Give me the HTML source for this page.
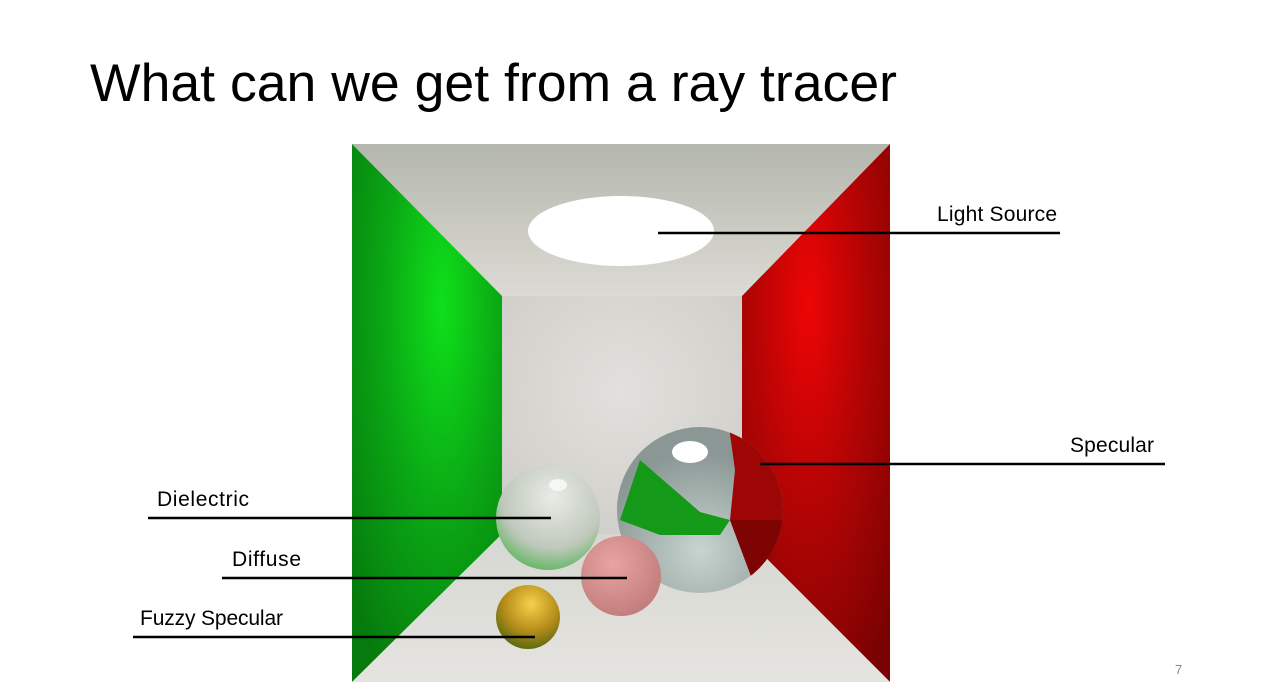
<!DOCTYPE html>
<html><head><meta charset="utf-8"><style>
html,body{margin:0;padding:0;background:#fff;width:1272px;height:695px;overflow:hidden}
svg{display:block}
text{font-family:"Liberation Sans",sans-serif}
</style></head><body>
<svg width="1272" height="695" viewBox="0 0 1272 695">
<defs>
<radialGradient id="gG" cx="0.6" cy="0.3" r="0.8"><stop offset="0" stop-color="#0fe01a"/><stop offset="0.5" stop-color="#0aa614"/><stop offset="1" stop-color="#067a0d"/></radialGradient>
<radialGradient id="gR" cx="0.45" cy="0.3" r="0.8"><stop offset="0" stop-color="#ee0505"/><stop offset="0.5" stop-color="#b00404"/><stop offset="1" stop-color="#7a0202"/></radialGradient>
<radialGradient id="gB" cx="0.5" cy="0.4" r="0.7"><stop offset="0" stop-color="#e2e0dc"/><stop offset="1" stop-color="#cfcdc8"/></radialGradient>
<linearGradient id="gC" x1="0" y1="0" x2="0" y2="1"><stop offset="0" stop-color="#b4b7ae"/><stop offset="1" stop-color="#dcdad4"/></linearGradient>
<linearGradient id="gF" x1="0" y1="0" x2="0" y2="1"><stop offset="0" stop-color="#d6d7d2"/><stop offset="1" stop-color="#e6e4e0"/></linearGradient>
<radialGradient id="sGlass" cx="0.55" cy="0.3" r="0.7"><stop offset="0" stop-color="#e8ece6"/><stop offset="0.7" stop-color="#c0c8bc"/><stop offset="1" stop-color="#6bb86a"/></radialGradient>
<radialGradient id="sPink" cx="0.4" cy="0.35" r="0.7"><stop offset="0" stop-color="#e8a4a2"/><stop offset="1" stop-color="#c07c7a"/></radialGradient>
<radialGradient id="sGold" cx="0.55" cy="0.3" r="0.7"><stop offset="0" stop-color="#f6d04a"/><stop offset="0.6" stop-color="#b78d1a"/><stop offset="1" stop-color="#5e6a10"/></radialGradient>
<radialGradient id="sMir" cx="0.5" cy="0.75" r="0.6"><stop offset="0" stop-color="#c8d4d0"/><stop offset="1" stop-color="#8a9794"/></radialGradient>
<clipPath id="mclip"><circle cx="700" cy="510" r="83"/></clipPath>
</defs>
<text x="90" y="101" font-size="53" textLength="807" lengthAdjust="spacingAndGlyphs" fill="#000">What can we get from a ray tracer</text>
<g>
<polygon points="352,144 890,144 742,296 502,296" fill="url(#gC)"/>
<polygon points="352,144 502,296 502,534 352,682" fill="url(#gG)"/>
<polygon points="890,144 742,296 742,534 890,682" fill="url(#gR)"/>
<rect x="502" y="296" width="240" height="238" fill="url(#gB)"/>
<polygon points="502,534 742,534 890,682 352,682" fill="url(#gF)"/>
<ellipse cx="621" cy="231" rx="93" ry="35" fill="#fff"/>
<g>
<circle cx="700" cy="510" r="83" fill="url(#sMir)"/>
<g clip-path="url(#mclip)">
<polygon points="728,420 800,420 800,600 760,600 730,520 735,470" fill="#9e0606"/>
<polygon points="640,460 700,512 730,520 720,535 660,535 620,520" fill="#149a18"/>
<polygon points="730,520 800,520 800,600 760,600" fill="#7e0404"/>
</g>
<ellipse cx="690" cy="452" rx="18" ry="11" fill="#fff"/>
</g>
<circle cx="548" cy="518" r="52" fill="url(#sGlass)"/>
<ellipse cx="558" cy="485" rx="9" ry="6" fill="#f6f6f4"/>
<circle cx="621" cy="576" r="40" fill="url(#sPink)"/>
<circle cx="528" cy="617" r="32" fill="url(#sGold)"/>
</g>
<g stroke="#000" stroke-width="2.5">
<line x1="658" y1="233" x2="1060" y2="233"/>
<line x1="760" y1="464" x2="1165" y2="464"/>
<line x1="148" y1="518" x2="551" y2="518"/>
<line x1="222" y1="578" x2="627" y2="578"/>
<line x1="133" y1="637" x2="535" y2="637"/>
</g>
<g font-size="21" fill="#000">
<text x="937" y="221" textLength="120">Light Source</text>
<text x="1070" y="452" textLength="84">Specular</text>
<text x="157" y="506" textLength="92">Dielectric</text>
<text x="232" y="566" textLength="69">Diffuse</text>
<text x="140" y="625" textLength="143">Fuzzy Specular</text>
</g>
<text x="1175" y="674" font-size="13" fill="#888">7</text>
</svg>
</body></html>
